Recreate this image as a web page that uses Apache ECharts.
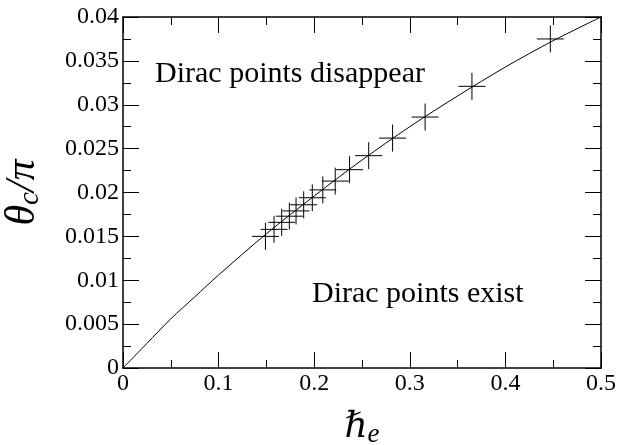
<!DOCTYPE html>
<html><head><meta charset="utf-8">
<script src="https://cdn.jsdelivr.net/npm/echarts/dist/echarts.min.js"></script>
<style>html,body{margin:0;padding:0;background:#fff}#c{width:619px;height:445px}</style>
</head><body><div id="c"></div>
<script>
// measured crosses
const crossX = [0.149, 0.158, 0.166, 0.174, 0.181, 0.189, 0.198, 0.209, 0.222, 0.237, 0.257, 0.282, 0.316, 0.365, 0.447];
const crossY = [0.0150, 0.0158, 0.0166, 0.0173, 0.0179, 0.0186, 0.0194, 0.0203, 0.0213, 0.0226, 0.0242, 0.0262, 0.0286, 0.0321, 0.0375];
// boundary curve
const curveX = [0, 0.025, 0.05, 0.075, 0.1, 0.15, 0.2, 0.25, 0.3, 0.35, 0.4, 0.45, 0.5];
const curveY = [0, 0.0028, 0.0056, 0.0081, 0.0106, 0.0153, 0.0196, 0.0237, 0.0275, 0.0310, 0.0343, 0.0373, 0.0400];
// axis ranges
const xRange = [0, 0.5, 0.1];
const yRange = [0, 0.04, 0.005];
// region labels
const regionTexts = ['Dirac points disappear', 'Dirac points exist'];
const regionAnchors = [[0.0335, 0.0335], [0.1977, 0.0084]];

const chart = echarts.init(document.getElementById('c'));
const serif = "'Liberation Serif', 'Times New Roman', serif";
const tickStyle = {color: '#000', width: 1};
function mkAxis(range, pos, showLabel, extra) {
  return Object.assign({
    type: 'value', min: range[0], max: range[1], interval: range[2], position: pos,
    axisLine: {show: true, onZero: false, lineStyle: {color: '#000', width: 1.5}},
    axisTick: {show: true, inside: true, length: 16, lineStyle: tickStyle},
    minorTick: {show: true, splitNumber: 2, length: 8, lineStyle: tickStyle},
    splitLine: {show: false}, minorSplitLine: {show: false},
    axisLabel: {show: showLabel, color: '#000', fontFamily: serif, fontSize: 24, margin: 4,
      showMinLabel: true, showMaxLabel: true}
  }, extra || {});
}
const option = {
  animation: false,
  backgroundColor: '#fff',
  grid: {left: 123, right: 18, top: 17, bottom: 77, containLabel: false, outerBoundsMode: 'none'},
  xAxis: [
    mkAxis(xRange, 'bottom', true, {
      name: '{h|ℏ}{s|e}', nameLocation: 'middle', nameGap: 40,
      nameTextStyle: {rich: {
        h: {fontFamily: "'DejaVu Serif', serif", fontStyle: 'italic', fontSize: 36, lineHeight: 40, color: '#000'},
        s: {fontFamily: serif, fontStyle: 'italic', fontSize: 27, lineHeight: 24, verticalAlign: 'bottom', color: '#000'}
      }}
    }),
    mkAxis(xRange, 'top', false)
  ],
  yAxis: [
    mkAxis(yRange, 'left', true, {
      name: '{t|θ}{s|c}{t|/π}', nameLocation: 'middle', nameGap: 78,
      nameTextStyle: {rich: {
        t: {fontFamily: serif, fontStyle: 'italic', fontSize: 42, lineHeight: 44, color: '#000'},
        s: {fontFamily: serif, fontStyle: 'italic', fontSize: 29, lineHeight: 30, verticalAlign: 'bottom', color: '#000'}
      }}
    }),
    mkAxis(yRange, 'right', false)
  ],
  series: [
    {type: 'line', data: curveX.map((x, i) => [x, curveY[i]]), symbol: 'none', smooth: 0.3,
     lineStyle: {color: '#000', width: 1}, silent: true, z: 3},
    {type: 'scatter', data: crossX.map((x, i) => [x, crossY[i]]),
     symbol: 'path://M10,0L10,20M0,10L20,10', symbolSize: 27, symbolKeepAspect: true,
     itemStyle: {color: 'none', borderColor: '#000', borderWidth: 1, opacity: 1}, z: 2}
  ]
};
chart.setOption(option);
const g = regionTexts.map((t, i) => {
  const p = chart.convertToPixel({xAxisIndex: 0, yAxisIndex: 0}, regionAnchors[i]);
  return {type: 'text', x: p[0], y: p[1], z: 10,
    style: {text: t, fill: '#000', font: "30px 'Liberation Serif', serif", verticalAlign: 'middle', align: 'left'}};
});
chart.setOption({graphic: g});
</script></body></html>
